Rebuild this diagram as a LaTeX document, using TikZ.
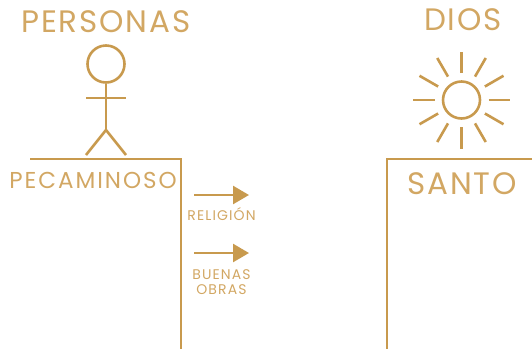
\documentclass[tikz,border=0pt]{standalone}
\usepackage{fontspec}
\setmainfont{Poppins}
\newfontfamily\spA[LetterSpace=6]{Poppins}
\newfontfamily\spB[LetterSpace=8.5]{Poppins}
\newfontfamily\spC[LetterSpace=8]{Poppins}
\usetikzlibrary{arrows.meta}
\definecolor{gold}{HTML}{C89A4E}
\definecolor{goldtext}{HTML}{D2A763}
\tikzset{
  ln/.style={draw=gold,line width=2.6pt},
  txt/.style={text=goldtext,inner sep=0pt,anchor=base},
  big/.style={txt,font=\spA\fontsize{31}{31}\selectfont},
  mid/.style={txt,font=\spB\fontsize{23}{23}\selectfont},
  small/.style={txt,font=\spC\fontsize{14}{15}\selectfont},
  arr/.style={ln,-{Triangle[length=16pt,width=18pt]}},
}
\begin{document}
\begin{tikzpicture}[x=1pt,y=-1pt]
\useasboundingbox (0,0) rectangle (532,349);
\node[big] (personas) at (106,32) {PERSONAS};
\node[big] (dios) at (463,30) {DIOS};
\node[mid] (pec) at (93,188) {PECAMINOSO};
\node[big] (santo) at (462,194) {SANTO};
\node[small] (rel) at (221.5,220) {RELIGIÓN};
\node[small] (buenas) at (221.5,279) {BUENAS};
\node[small] (obras) at (221.5,294) {OBRAS};
% platforms
\draw[ln] (30,159) -- (181,159) -- (181,349);
\draw[ln] (532,159) -- (387,159) -- (387,349);
% person
\node[circle,ln,minimum size=37pt,inner sep=0pt] (head) at (106,64) {};
\coordinate (hip) at (106,130);
\coordinate (la) at (86,98);
\coordinate (ra) at (126,98);
\coordinate (lf) at (86,155);
\coordinate (rf) at (126,155);
\draw[ln] (head) -- (hip);
\draw[ln] (la) -- (ra);
\draw[ln] (lf) -- (hip) -- (rf);
% sun
\node[circle,ln,minimum size=37pt,inner sep=0pt] (sun) at (461.5,100) {};
\foreach \a in {0,30,...,330}{
  \draw[ln] (sun.center) ++(\a:27) -- ++(\a:21.5);
}
% arrows
\coordinate (a1) at (194,195);
\coordinate (b1) at (249,195);
\coordinate (a2) at (194,253);
\coordinate (b2) at (249,253);
\draw[arr] (a1) -- (b1);
\draw[arr] (a2) -- (b2);
\end{tikzpicture}
\end{document}
